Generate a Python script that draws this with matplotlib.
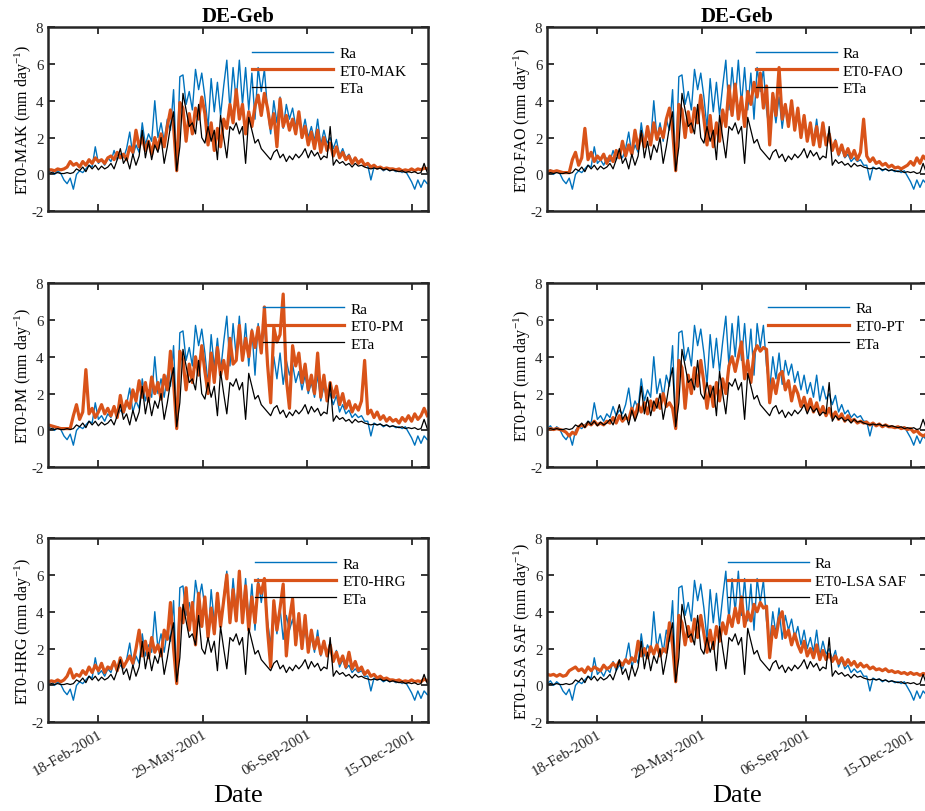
import numpy as np
import matplotlib
matplotlib.use("Agg")
import matplotlib.pyplot as plt
import matplotlib.dates as mdates

plt.rcParams["font.family"] = ["Liberation Serif", "DejaVu Serif"]
plt.rcParams["mathtext.fontset"] = "custom"
plt.rcParams["mathtext.rm"] = "Liberation Serif"
plt.rcParams["mathtext.default"] = "regular"
plt.rcParams["axes.unicode_minus"] = False

# sampled every 3 days, starting 01-Jan-2001
dates = np.datetime64("2001-01-01") + np.arange(0, 364, 3)

ra = [0.1, 0.25, 0.0, 0.2, 0.05, -0.3, -0.5, -0.2, -0.8, 0.0,
      0.2, 0.1, 0.3, 0.5, 0.4, 1.5, 0.6, 0.8, 0.5, 0.9,
      0.7, 1.3, 0.8, 1.1, 0.9, 1.4, 2.3, 1.0, 1.6, 1.2,
      2.8, 1.6, 2.2, 1.8, 4.0, 2.0, 2.8, 1.8, 3.0, 2.4,
      4.6, 0.3, 5.3, 5.4, 3.8, 4.5, 3.5, 5.7, 4.6, 5.5,
      4.2, 2.5, 5.2, 3.4, 5.0, 3.2, 4.8, 6.2, 3.5, 5.8,
      4.0, 6.2, 3.8, 5.8, 3.5, 5.5, 3.0, 5.8, 4.5, 5.7,
      3.5, 2.2, 4.0, 2.8, 4.2, 2.5, 3.8, 3.0, 3.6, 2.6,
      3.2, 2.2, 3.0, 2.0, 2.6, 1.8, 3.0, 1.6, 2.4, 1.7,
      2.0, 1.4, 1.9, 1.0, 1.4, 0.9, 1.1, 0.7, 0.9, 0.7,
      0.8, 0.5, 0.5, -0.3, 0.4, 0.3, 0.35, 0.2, 0.3, 0.2,
      0.25, 0.15, 0.2, 0.1, 0.2, -0.1, -0.4, -0.8, -0.3, -0.7,
      -0.3, -0.5]

eta = [0.05, 0.1, 0.05, 0.1, 0.05, 0.05, 0.1, 0.05, 0.1, 0.3,
       0.2, 0.4, 0.15, 0.5, 0.3, 0.5, 0.25, 0.45, 0.3, 0.4,
       0.6, 0.3, 0.8, 1.4, 0.6, 0.9, 0.3, 1.1, 0.5, 1.0,
       2.4, 0.9, 1.8, 0.8, 1.6, 1.2, 2.0, 0.6, 1.5, 2.6,
       3.4, 0.2, 1.5, 4.4, 3.5, 2.6, 2.8, 2.2, 3.8, 2.0,
       1.7, 2.6, 1.8, 2.4, 0.8, 3.2, 2.0, 0.9, 2.6, 2.4,
       2.8, 2.2, 2.6, 0.6, 3.1, 2.4, 1.7, 1.9, 1.4, 1.2,
       1.0, 0.8, 1.2, 1.35, 0.9, 1.1, 0.7, 1.0, 0.8, 1.1,
       0.9, 1.1, 1.4, 0.9, 1.3, 1.0, 1.2, 0.8, 1.0, 0.9,
       2.6, 0.5, 0.8, 0.6, 0.7, 0.5, 0.6, 0.4, 0.6, 0.45,
       0.5, 0.4, 0.35, 0.3, 0.35, 0.3, 0.35, 0.25, 0.3, 0.2,
       0.25, 0.2, 0.15, 0.2, 0.1, 0.15, 0.1, 0.15, 0.05, 0.1,
       0.6, 0.1]

et0_mak = [0.25, 0.25, 0.2, 0.3, 0.25, 0.3, 0.4, 0.7, 0.5, 0.6,
           0.4, 0.7, 0.5, 0.8, 0.6, 0.9, 0.7, 0.8, 0.6, 0.9,
           1.0, 0.8, 1.2, 0.9, 1.1, 0.8, 1.5, 1.2, 2.4, 1.5,
           2.0, 1.3, 1.8, 1.1, 2.0, 1.4, 2.2, 1.5, 2.6, 3.5,
           2.6, 0.2, 3.9, 3.6, 1.8, 3.3, 2.2, 3.6, 3.0, 4.2,
           3.3, 1.6, 2.8, 1.3, 2.5, 1.5, 3.0, 2.5, 3.8, 2.8,
           4.6, 3.0, 3.8, 2.2, 3.4, 2.6, 3.7, 4.3, 3.2, 4.4,
           3.6, 2.5, 3.3, 1.5, 4.1, 2.6, 3.2, 2.4, 3.0, 2.2,
           3.4, 2.0, 2.6, 1.6, 2.3, 1.4, 2.4, 1.2, 2.0, 1.3,
           1.7, 1.0, 1.5, 0.9, 1.2, 0.8, 1.0, 0.6, 0.9, 0.6,
           0.8, 0.5, 0.6, 0.4, 0.5, 0.35, 0.4, 0.3, 0.35, 0.3,
           0.3, 0.25, 0.3, 0.2, 0.25, 0.2, 0.3, 0.2, 0.3, 0.25,
           0.35, 0.3]

et0_fao = [0.15, 0.2, 0.15, 0.2, 0.15, 0.1, 0.1, 0.1, 0.8, 1.2,
           0.5, 0.9, 2.5, 0.8, 1.2, 0.7, 1.0, 0.8, 1.1, 0.6,
           1.0, 0.7, 1.3, 0.9, 1.8, 1.0, 1.6, 1.1, 2.4, 1.4,
           2.2, 1.5, 2.6, 1.6, 2.8, 1.9, 2.5, 2.0, 3.0, 3.6,
           2.4, 0.2, 3.8, 3.5, 2.0, 3.4, 2.3, 3.6, 2.8, 4.3,
           3.0, 1.6, 3.2, 1.5, 2.8, 1.8, 3.5, 2.6, 4.8, 3.2,
           4.9, 3.0, 4.2, 2.6, 4.5, 3.8, 5.0, 4.2, 5.5, 3.6,
           4.8, 1.6, 4.4, 3.2, 5.8, 3.0, 3.8, 2.6, 4.0, 2.4,
           3.6, 2.0, 3.2, 1.8, 2.8, 1.6, 2.6, 1.5, 2.8, 1.6,
           2.2, 1.3, 1.8, 1.1, 1.6, 1.0, 1.4, 0.9, 1.3, 0.8,
           1.2, 3.0, 1.0, 0.7, 0.9, 0.6, 0.7, 0.5, 0.6, 0.4,
           0.5, 0.35, 0.4, 0.3, 0.4, 0.5, 0.7, 0.5, 0.9, 0.6,
           1.0, 0.8]

et0_pm = [0.3, 0.25, 0.2, 0.15, 0.1, 0.1, 0.1, 0.1, 0.8, 1.4,
          0.6, 1.0, 3.3, 0.9, 1.2, 0.7, 1.0, 1.4, 0.9, 1.2,
          0.8, 1.3, 0.7, 1.9, 1.0, 1.6, 1.2, 2.2, 1.6, 2.7,
          1.8, 2.6, 1.6, 2.9, 2.0, 2.6, 1.7, 3.0, 2.2, 4.3,
          2.6, 0.1, 4.3, 3.8, 2.2, 3.6, 2.6, 4.0, 3.0, 4.6,
          3.2, 2.0, 4.2, 2.6, 4.5, 3.0, 3.8, 2.8, 5.0, 3.6,
          3.8, 5.7, 3.8, 5.0, 4.0, 5.4, 4.5, 5.6, 4.2, 6.7,
          3.6, 1.5, 5.6, 4.8, 5.2, 7.4, 2.8, 1.2, 4.6, 3.5,
          4.2, 2.6, 3.6, 2.2, 3.0, 2.0, 4.2, 1.8, 3.0, 1.6,
          2.6, 1.8, 2.4, 1.4, 2.0, 1.2, 1.6, 1.0, 1.4, 1.1,
          1.6, 3.8, 0.9, 1.1, 0.7, 1.0, 0.6, 0.8, 0.5, 0.7,
          0.5, 0.6, 0.4, 0.7, 0.5, 0.8, 0.5, 0.9, 0.6, 0.8,
          1.2, 0.8]

et0_pt = [0.05, 0.1, 0.05, 0.1, 0.05, 0.0, -0.1, -0.3, -0.1, -0.2,
          0.2, 0.3, 0.2, 0.4, 0.3, 0.5, 0.3, 0.4, 0.3, 0.5,
          0.4, 0.7, 0.4, 0.8, 0.5, 0.7, 0.6, 1.2, 0.7, 1.4,
          1.0, 1.5, 0.9, 1.6, 1.1, 1.7, 1.2, 2.0, 1.3, 1.5,
          1.2, 0.1, 3.8, 3.4, 1.2, 3.0, 2.0, 3.4, 2.4, 3.8,
          2.6, 1.2, 2.4, 1.3, 2.6, 1.6, 2.8, 2.0, 3.5, 4.0,
          3.2, 4.0, 4.8, 2.8, 3.8, 2.6, 4.2, 4.6, 4.3, 4.5,
          4.4, 1.5, 2.8, 2.0, 3.0, 3.2, 2.2, 2.7, 1.6, 2.4,
          2.0, 1.3, 1.8, 1.1, 1.7, 1.0, 1.5, 0.9, 1.3, 0.8,
          1.2, 0.7, 1.0, 0.6, 0.9, 0.5, 0.8, 0.5, 0.6, 0.4,
          0.5, 0.4, 0.45, 0.3, 0.4, 0.25, 0.35, 0.2, 0.3, 0.2,
          0.2, 0.15, 0.2, 0.1, 0.15, 0.05, 0.1, -0.1, 0.0, -0.2,
          -0.3, -0.2]

et0_hrg = [0.2, 0.25, 0.2, 0.3, 0.2, 0.3, 0.5, 0.9, 0.4, 0.6,
           0.5, 0.8, 0.6, 1.0, 0.7, 1.1, 0.8, 1.2, 0.7, 1.0,
           0.9, 1.3, 0.8, 1.5, 1.0, 1.3, 1.6, 1.2, 2.0, 3.0,
           1.6, 2.4, 1.5, 2.6, 1.8, 2.2, 1.6, 3.0, 2.5, 4.5,
           2.0, 0.1, 4.2, 3.4, 5.3, 3.0, 4.5, 2.2, 5.0, 3.2,
           4.8, 2.6, 4.2, 2.8, 5.0, 3.2, 4.6, 6.0, 3.4, 5.2,
           3.5, 6.2, 3.4, 5.4, 3.0, 4.8, 3.4, 5.5, 5.0, 5.8,
           3.0, 1.0, 4.6, 3.0, 4.2, 5.5, 1.6, 3.6, 4.7, 2.2,
           3.9, 2.0, 3.8, 1.8, 3.0, 2.0, 2.6, 1.7, 2.4, 1.6,
           2.2, 1.3, 1.8, 1.2, 1.6, 1.0, 1.8, 0.9, 1.3, 0.8,
           1.0, 0.6, 0.8, 0.5, 0.6, 0.4, 0.5, 0.35, 0.4, 0.3,
           0.3, 0.25, 0.3, 0.2, 0.25, 0.2, 0.3, 0.2, 0.25, 0.2,
           0.35, 0.25]

et0_lsa = [0.6, 0.55, 0.6, 0.5, 0.6, 0.5, 0.55, 0.8, 0.9, 1.0,
           0.8, 0.9, 0.7, 1.0, 0.8, 1.0, 0.9, 0.8, 1.1, 0.9,
           1.0, 1.2, 1.0, 1.3, 1.1, 1.4, 1.2, 1.5, 1.3, 2.4,
           1.6, 2.0, 1.5, 2.1, 1.7, 2.2, 1.6, 2.0, 1.8, 3.4,
           2.2, 0.2, 3.8, 3.4, 2.2, 3.2, 2.4, 3.6, 2.6, 3.8,
           2.8, 1.8, 3.0, 2.0, 3.2, 2.4, 3.4, 2.8, 3.8, 3.2,
           4.2, 3.4, 4.8, 3.2, 4.0, 3.5, 4.4, 4.0, 4.5, 4.2,
           4.3, 1.5, 3.2, 2.6, 3.6, 4.0, 2.6, 3.0, 2.2, 2.8,
           2.2, 1.8, 2.4, 1.6, 2.0, 1.5, 2.2, 1.4, 1.9, 1.4,
           1.7, 1.3, 1.6, 1.2, 1.5, 1.1, 1.4, 1.1, 1.3, 1.0,
           1.2, 1.0, 1.1, 0.9, 1.0, 0.85, 0.9, 0.8, 0.9, 0.75,
           0.8, 0.7, 0.75, 0.65, 0.7, 0.6, 0.7, 0.6, 0.65, 0.55,
           0.65, 0.6]

et0_names = ["ET0-MAK", "ET0-FAO", "ET0-PM", "ET0-PT", "ET0-HRG", "ET0-LSA SAF"]
et0_series = [et0_mak, et0_fao, et0_pm, et0_pt, et0_hrg, et0_lsa]
tick_dates = ["2001-02-18", "2001-05-29", "2001-09-06", "2001-12-15"]
site = "DE-Geb"

# legend anchor per panel (axes fraction)
leg_xy = [(0.536, 0.895), (0.548, 0.895), (0.565, 0.897), (0.581, 0.898),
          (0.544, 0.897), (0.475, 0.898)]

fig = plt.figure(figsize=(9.25, 8.12), dpi=100)
col_x = [48.3 / 925, 547.3 / 925]
row_y = [(812 - 212.3) / 812, (812 - 468.3) / 812, (812 - 723.3) / 812]
w, h = 380 / 925, 184.3 / 812

for k in range(6):
    r, c = divmod(k, 2)
    ax = fig.add_axes([col_x[c], row_y[r], w, h])
    ax.plot(dates, ra, color="#0072BD", lw=1.0, label="Ra")
    ax.plot(dates, et0_series[k], color="#D95319", lw=2.3, label=et0_names[k])
    ax.plot(dates, eta, color="black", lw=0.9, label="ETa")

    ax.set_xlim(np.datetime64("2001-01-01"), np.datetime64("2001-12-31"))
    ax.set_ylim(-2, 8)
    ax.set_yticks([-2, 0, 2, 4, 6, 8])
    ax.set_xticks([np.datetime64(d) for d in tick_dates])
    ax.xaxis.set_major_formatter(mdates.DateFormatter("%d-%b-%Y"))
    ax.tick_params(direction="in", top=True, right=True, length=5, width=1.3,
                   labelsize=10.8, colors="#262626")
    for s in ax.spines.values():
        s.set_linewidth(1.8)
        s.set_color("#262626")
    ax.set_ylabel(et0_names[k] + " (mm day$^{-1}$)", fontsize=11.5, labelpad=-2)

    if r == 0:
        ax.set_title(site, fontsize=15, fontweight="bold", pad=4)
    if r < 2:
        ax.set_xticklabels([])
    else:
        plt.setp(ax.get_xticklabels(), rotation=30, ha="right", rotation_mode="anchor")
        ax.set_xlabel("Date", fontsize=19, labelpad=3)

    ax.legend(loc="upper left", bbox_to_anchor=leg_xy[k], frameon=False,
              fontsize=11, handlelength=5.3, handletextpad=0.4,
              labelspacing=0.25, borderpad=0, borderaxespad=0)

fig.savefig("out.png", dpi=100)
